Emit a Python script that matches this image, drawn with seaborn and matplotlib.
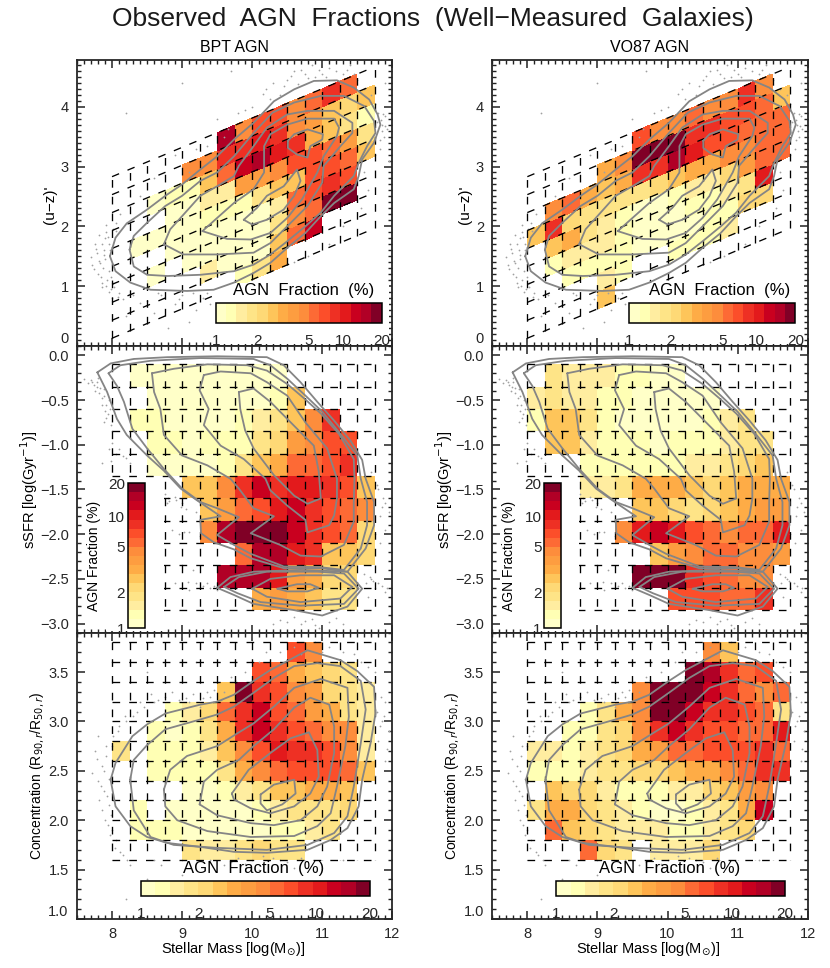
import numpy as np
import matplotlib
matplotlib.use("Agg")
import matplotlib.pyplot as plt
from matplotlib.colors import ListedColormap, BoundaryNorm
from matplotlib.patches import Rectangle
from matplotlib.ticker import MultipleLocator
import seaborn as sns

_ = -1
# ---------- colour steps of the AGN fraction scale ----------
STEP_COLORS = ['#FFFFC8', '#FFFFB4', '#FFEDA0', '#FEE487', '#FED976', '#FEC55A', '#FEAC46', '#FD9D40',
               '#FD8D3C', '#FD6A35', '#FC4E2A', '#EE3024', '#E31A1C', '#C9001F', '#B10026', '#800026']
STEP_EDGES = [1, 1.19, 1.41, 1.68, 2, 2.4, 2.88, 3.46, 4.16, 5, 6.17, 7.6, 9.37, 11.56, 13.6, 16.5, 20]
STEP_PCT = [1.09, 1.3, 1.54, 1.83, 2.2, 2.63, 3.16, 3.8, 4.56, 5.55, 6.85, 8.44, 10.4, 12.5, 15, 18.2]
CBAR_TICKS = [1, 2, 5, 10, 20]

# ---------- bins ----------
MASS_EDGES = [8, 8.25, 8.5, 8.75, 9, 9.25, 9.5, 9.75, 10, 10.25, 10.5, 10.75, 11, 11.25, 11.5, 11.75]
COLOR_OFFSETS = [0.13, 0.43, 0.73, 1.03, 1.33, 1.63, 1.93, 2.23, 2.53, 2.83]  # at mass 8
COLOR_SLOPE = 0.49
SSFR_EDGES = [-0.1, -0.35, -0.6, -0.85, -1.1, -1.35, -1.6, -1.85, -2.1, -2.35, -2.6, -2.85]
CONC_EDGES = [3.8, 3.6, 3.4, 3.2, 3.0, 2.8, 2.6, 2.4, 2.2, 2.0, 1.8, 1.6]

# ---------- fraction step read from each cell (rows bottom to top for u-z, top to bottom for others) ----------
UZ_BPT = [
    [_, _, _, _, _, _, _, 1, 3, 6, _, _, _, _, _],
    [_, _, _, _, _, 2, 0, 0, 0, 5, 9, 13, _, _, _],
    [_, _, 0, _, 0, 0, 0, 0, 0, 3, 8, 9, 15, 15, _],
    [_, _, _, 0, 0, 0, 0, 0, 0, 2, 9, 10, 11, 10, _],
    [_, 0, 0, 0, 0, 1, 1, 1, 3, 5, 5, 10, 10, 9, 5],
    [_, _, _, 0, 0, 2, 2, 7, 7, 8, 10, 10, 9, 7, 3],
    [_, _, 0, 1, 1, 5, 9, 13, 14, 12, 11, 6, 5, 3, 1],
    [_, _, _, _, 8, 8, 11, 11, 12, 11, 8, 7, 5, 4, 5],
    [_, _, _, _, _, _, 14, 8, 10, 10, 8, 9, 11, 9, _],
]
UZ_VO87 = [
    [_, _, _, _, 5, _, _, _, _, _, _, _, _, _, _],
    [_, _, _, _, 2, 1, _, _, 1, 1, 1, 2, _, _, _],
    [_, _, 1, 1, 1, 1, 0, 0, 0, 0, 1, 1, 4, 4, _],
    [_, 1, 2, 2, 2, 1, 0, 0, 0, 1, 1, 2, 3, 12, _],
    [_, 5, 6, 3, 2, 1, 0, 0, 1, 2, 2, 4, 7, 9, 9],
    [5, 11, 4, 3, 3, 3, 3, 4, 5, 6, 6, 8, 8, 9, 9],
    [_, 8, 9, 6, 5, 6, 11, 11, 14, 12, 10, 10, 9, 9, 9],
    [_, _, _, _, 6, 8, 15, 15, 15, 11, 11, 10, 10, 9, 5],
    [_, _, _, _, _, _, 10, 8, 8, 9, 8, 8, 11, 8, _],
]
SSFR_BPT = [
    [_, 0, 0, 0, 0, 0, 0, 0, 0, 0, _, _, _, _, _],
    [_, _, 0, 0, 0, 0, 0, 0, 0, 1, 5, _, _, _, _],
    [_, 1, 1, 0, 0, 0, 0, 1, 2, 3, 5, 8, 11, _, _],
    [_, _, 1, 1, 0, 1, 1, 1, 3, 4, 7, 8, 10, 10, _],
    [_, _, 0, 0, 0, 0, 1, 3, 5, 6, 9, 9, 10, 11, _],
    [_, _, _, _, 5, 5, 8, 11, 13, 11, 12, 12, 11, 10, 5],
    [_, _, _, _, _, 5, 7, 9, 10, 12, 13, 11, 10, 9, 8],
    [_, _, _, _, _, 8, 14, 15, 15, 15, 13, 11, 10, 9, 4],
    [_, _, _, _, _, _, _, 9, 14, 14, 12, 11, 5, 5, 4],
    [_, _, _, _, _, _, 14, 14, 14, 12, 7, 6, 4, 4, _],
    [_, _, _, _, _, _, _, _, 6, 7, 6, 5, 3, 3, _],
]
SSFR_VO87 = [
    [_, 3, 2, 2, 2, 1, 1, 0, 0, _, _, _, _, _, _],
    [2, 3, 2, 2, 1, 1, 0, 0, 0, 0, 0, _, _, _, _],
    [1, 5, 5, 3, 1, 0, 0, 0, 0, 0, 1, 2, 3, _, _],
    [_, 5, 5, 2, 1, 1, 1, 0, 1, 1, 1, 2, 3, 3, _],
    [_, _, _, 1, 1, 1, 1, 1, 1, 2, 2, 3, 4, 5, _],
    [_, _, _, 2, 2, 3, 6, 6, 6, 5, 4, 5, 6, 6, 6],
    [_, _, _, _, _, _, 5, 5, 4, 3, 4, 5, 6, 7, 7],
    [_, _, _, _, _, 8, 12, 13, 12, 10, 9, 8, 9, 9, 12],
    [_, _, _, _, _, _, _, 5, 7, 8, 9, 9, 8, 8, 7],
    [_, _, _, _, _, _, 15, 15, 15, 11, 10, 9, 8, 8, _],
    [_, _, _, _, _, _, _, _, 10, 10, 10, 9, 9, 11, _],
]
CONC_BPT = [
    [_, _, _, _, _, _, _, _, _, _, 10, 8, _, _, _],
    [_, _, _, _, _, _, _, _, 10, 9, 6, 5, 4, 3, _],
    [_, _, _, _, _, _, 5, 15, 11, 10, 8, 7, 4, 3, 2],
    [_, _, _, 1, 2, 4, 9, 11, 13, 10, 9, 7, 6, 3, 2],
    [_, _, 1, 0, 1, 3, 6, 11, 13, 11, 10, 9, 8, 8, 2],
    [3, _, 1, 1, 1, 2, 5, 8, 10, 12, 11, 11, 10, 8, 2],
    [_, _, 1, 1, 1, 1, 3, 6, 8, 9, 10, 10, 10, 9, 5],
    [_, _, _, _, 0, 0, 1, 2, 3, 5, 5, 6, 6, 5, _],
    [_, 1, _, 0, 0, 0, 0, 0, 1, 2, 3, 3, 3, 4, _],
    [_, 1, 1, 1, 0, 0, 0, 0, 0, 1, 1, 2, 3, _, _],
    [_, _, _, _, 3, 2, 2, 3, 4, 3, 3, _, _, _, _],
]
CONC_VO87 = [
    [_, _, _, _, _, _, _, _, _, _, 8, 5, _, _, _],
    [_, _, _, _, _, _, _, _, _, 15, 14, 11, 9, 10, _],
    [_, _, _, _, _, _, 8, 15, 15, 15, 13, 11, 9, 8, 9],
    [_, _, _, 1, 3, 6, 8, 15, 15, 13, 11, 11, 10, 9, 3],
    [_, _, 1, 1, 3, 4, 8, 11, 13, 11, 10, 10, 9, 9, 12],
    [2, 2, 1, 2, 3, 4, 6, 7, 9, 9, 10, 10, 10, 11, 9],
    [1, 1, 1, 2, 3, 3, 4, 4, 5, 6, 6, 8, 9, 11, 11],
    [_, 5, 4, 4, 2, 1, 1, 1, 2, 2, 4, 5, 7, 8, _],
    [3, 6, 6, 4, 3, 2, 1, 0, 0, 1, 2, 3, 6, 13, _],
    [_, 9, 5, 4, 3, 2, 2, 2, 1, 1, 2, 3, 4, _, _],
    [_, _, _, 9, 4, 3, _, 2, 2, 2, 4, _, _, _, _],
]

# ---------- number-density contours (mass, y) ----------
UZ_CONTOURS = [
    ([7.97, 8.05, 8.21, 8.5, 8.76, 9.0, 9.26, 9.5, 9.74, 10.02, 10.31, 10.6, 10.88, 11.21, 11.45, 11.67, 11.79, 11.83, 11.74, 11.57, 11.52, 11.45, 11.17, 10.98, 10.76, 10.5, 10.26, 10.02, 9.74, 9.45, 9.07, 8.55, 8.26, 8.05, 7.97],
     [1.50, 1.81, 2.05, 2.28, 2.51, 2.70, 2.95, 3.17, 3.45, 3.73, 4.09, 4.29, 4.43, 4.44, 4.32, 4.12, 3.87, 3.70, 3.40, 3.12, 2.84, 2.62, 2.39, 2.17, 1.89, 1.64, 1.39, 1.22, 1.06, 0.94, 0.92, 0.94, 1.06, 1.25, 1.50]),
    ([8.25, 8.31, 8.5, 8.76, 9.0, 9.26, 9.5, 9.74, 10.02, 10.29, 10.6, 10.98, 11.31, 11.6, 11.74, 11.76, 11.64, 11.52, 11.45, 11.17, 10.98, 10.76, 10.5, 10.26, 10.02, 9.74, 9.26, 8.79, 8.5, 8.31, 8.25],
     [1.61, 1.84, 2.06, 2.34, 2.51, 2.76, 2.90, 3.17, 3.56, 3.90, 4.07, 4.18, 4.18, 4.01, 3.76, 3.56, 3.34, 3.06, 2.84, 2.51, 2.23, 2.0, 1.75, 1.53, 1.36, 1.25, 1.19, 1.17, 1.19, 1.33, 1.61]),
    ([8.74, 8.83, 9.0, 9.26, 9.5, 9.74, 9.81, 10.02, 10.21, 10.5, 10.79, 11.17, 11.43, 11.43, 11.26, 11.02, 11.0, 10.79, 10.5, 10.26, 10.02, 9.5, 9.02, 8.74],
     [1.70, 1.95, 2.17, 2.51, 2.67, 2.84, 3.01, 3.34, 3.65, 3.87, 3.93, 3.93, 3.73, 3.56, 3.34, 3.01, 2.73, 2.34, 2.0, 1.72, 1.56, 1.53, 1.53, 1.70]),
    ([9.29, 9.5, 9.74, 10.02, 10.17, 10.17, 10.26, 10.5, 10.79, 11.17, 11.24, 11.21, 11.02, 10.93, 10.71, 10.5, 10.26, 9.98, 9.64, 9.29],
     [1.92, 2.14, 2.39, 2.62, 2.90, 3.34, 3.54, 3.70, 3.80, 3.80, 3.65, 3.51, 3.17, 2.90, 2.45, 2.14, 1.89, 1.78, 1.79, 1.92]),
    ([9.88, 10.07, 10.21, 10.45, 10.64, 10.69, 10.6, 10.45, 10.21, 10.0, 9.88],
     [2.11, 2.31, 2.51, 2.67, 2.95, 2.76, 2.51, 2.28, 2.11, 2.03, 2.11]),
    ([10.51, 10.6, 10.79, 11.01, 11.0, 10.83, 10.79, 10.64, 10.51, 10.51],
     [3.43, 3.54, 3.62, 3.54, 3.45, 3.34, 3.15, 3.20, 3.31, 3.43]),
]
SSFR_CONTOURS = [
    ([7.79, 7.98, 8.31, 8.79, 9.5, 10.21, 10.45, 10.69, 10.93, 11.17, 11.4, 11.57, 11.62, 11.74, 11.74, 11.62, 11.36, 10.98, 10.45, 9.98, 9.74, 9.45, 9.27, 9.26, 9.55, 9.21, 8.98, 8.74, 8.5, 8.21, 8.07, 7.93, 7.79],
     [-0.19, -0.09, -0.04, -0.02, -0.01, -0.02, -0.11, -0.30, -0.52, -0.73, -0.95, -1.17, -1.38, -1.64, -1.90, -2.16, -2.42, -2.38, -2.38, -2.27, -2.17, -2.09, -1.99, -1.84, -1.80, -1.62, -1.49, -1.29, -1.12, -0.89, -0.71, -0.41, -0.19]),
    ([7.95, 8.12, 8.55, 9.26, 10.02, 10.26, 10.5, 10.76, 11.0, 11.24, 11.5, 11.55, 11.64, 11.64, 11.55, 11.31, 10.98, 10.45, 9.98, 9.74, 9.5, 9.81, 9.5, 9.26, 9.0, 8.74, 8.5, 8.29, 8.17, 8.07, 7.95],
     [-0.20, -0.11, -0.06, -0.03, -0.04, -0.11, -0.26, -0.45, -0.63, -0.86, -1.12, -1.38, -1.64, -1.90, -2.16, -2.40, -2.37, -2.36, -2.22, -2.12, -2.01, -1.81, -1.71, -1.64, -1.49, -1.27, -1.04, -0.82, -0.52, -0.34, -0.20]),
    ([8.57, 8.88, 9.36, 9.93, 10.21, 10.5, 10.74, 10.98, 11.24, 11.45, 11.46, 11.45, 11.45, 11.31, 10.98, 10.69, 10.4, 9.98, 10.31, 10.02, 9.81, 9.69, 9.36, 9.0, 8.74, 8.69, 8.6, 8.57],
     [-0.20, -0.15, -0.10, -0.11, -0.17, -0.32, -0.48, -0.65, -0.88, -1.16, -1.38, -1.64, -1.86, -2.12, -2.25, -2.24, -2.12, -1.99, -1.80, -1.71, -1.49, -1.38, -1.23, -1.12, -0.89, -0.60, -0.41, -0.20]),
    ([9.31, 9.55, 9.98, 10.21, 10.5, 10.76, 11.07, 11.21, 11.21, 11.17, 11.1, 10.79, 10.76, 10.5, 10.26, 10.19, 9.88, 9.55, 9.31, 9.38, 9.25, 9.31],
     [-0.22, -0.18, -0.20, -0.30, -0.45, -0.75, -1.04, -1.38, -1.60, -1.79, -1.90, -1.98, -1.84, -1.68, -1.51, -1.38, -1.16, -1.01, -0.78, -0.60, -0.39, -0.22]),
    ([9.81, 10.02, 10.26, 10.5, 10.88, 10.95, 10.98, 10.79, 10.6, 10.31, 10.02, 9.9, 9.83, 9.81],
     [-0.41, -0.37, -0.52, -0.71, -1.01, -1.30, -1.60, -1.66, -1.57, -1.34, -1.04, -0.84, -0.60, -0.41]),
    ([9.5, 9.69, 10.02, 10.69, 11.36, 11.57, 11.36, 11.0, 10.6, 10.02, 9.74, 9.5],
     [-2.60, -2.48, -2.42, -2.40, -2.42, -2.61, -2.81, -2.91, -2.85, -2.78, -2.68, -2.60]),
    ([9.6, 9.81, 10.21, 10.93, 11.31, 11.52, 11.31, 10.69, 10.12, 9.79, 9.6],
     [-2.59, -2.48, -2.42, -2.42, -2.44, -2.61, -2.78, -2.80, -2.76, -2.66, -2.59]),
    ([10.0, 10.26, 10.69, 11.17, 11.43, 11.26, 10.69, 10.21, 10.0],
     [-2.61, -2.50, -2.46, -2.46, -2.59, -2.72, -2.76, -2.70, -2.61]),
    ([10.36, 10.64, 10.83, 10.95, 10.79, 10.5, 10.36],
     [-2.61, -2.56, -2.56, -2.60, -2.64, -2.64, -2.61]),
]
CONC_CONTOURS = [
    ([7.98, 8.05, 8.29, 8.5, 8.76, 9.26, 9.5, 9.74, 10.02, 10.26, 10.5, 10.79, 11.26, 11.5, 11.74, 11.76, 11.69, 11.57, 11.52, 11.36, 11.12, 10.79, 10.21, 9.74, 9.26, 8.79, 8.5, 8.26, 8.05, 7.98],
     [2.41, 2.58, 2.85, 2.97, 3.08, 3.17, 3.20, 3.27, 3.41, 3.52, 3.61, 3.72, 3.62, 3.51, 3.35, 3.08, 2.78, 2.41, 2.14, 1.92, 1.80, 1.70, 1.67, 1.68, 1.73, 1.77, 1.83, 1.94, 2.14, 2.41]),
    ([8.26, 8.31, 8.5, 8.76, 9.26, 9.5, 9.74, 10.02, 10.31, 10.6, 10.93, 11.26, 11.55, 11.62, 11.55, 11.45, 11.36, 11.17, 10.79, 10.21, 9.5, 8.88, 8.55, 8.31, 8.26],
     [2.41, 2.61, 2.76, 2.92, 3.02, 3.07, 3.15, 3.29, 3.44, 3.56, 3.59, 3.56, 3.41, 3.12, 2.78, 2.34, 2.04, 1.87, 1.75, 1.70, 1.72, 1.75, 1.83, 2.10, 2.41]),
    ([8.74, 8.83, 9.07, 9.5, 9.79, 10.02, 10.31, 10.6, 10.98, 11.36, 11.38, 11.33, 11.21, 11.12, 10.93, 10.6, 9.98, 9.36, 8.93, 8.76, 8.74],
     [2.31, 2.51, 2.65, 2.75, 2.88, 2.98, 3.15, 3.34, 3.43, 3.34, 3.05, 2.75, 2.34, 2.07, 1.94, 1.84, 1.83, 1.89, 2.0, 2.14, 2.31]),
    ([9.25, 9.31, 9.5, 9.81, 10.02, 10.31, 10.6, 10.83, 11.1, 11.17, 11.17, 11.07, 10.93, 10.69, 10.31, 9.98, 9.5, 9.25],
     [2.16, 2.39, 2.51, 2.61, 2.75, 2.92, 3.14, 3.24, 3.17, 2.95, 2.68, 2.34, 2.14, 2.0, 1.95, 1.97, 2.05, 2.16]),
    ([9.71, 9.95, 10.26, 10.55, 10.81, 10.93, 10.95, 10.83, 10.6, 10.26, 9.98, 9.74, 9.71],
     [2.27, 2.51, 2.68, 2.83, 2.89, 2.71, 2.44, 2.27, 2.14, 2.07, 2.12, 2.21, 2.27]),
    ([10.12, 10.31, 10.6, 10.62, 10.43, 10.21, 10.12, 10.12],
     [2.26, 2.36, 2.41, 2.27, 2.16, 2.10, 2.17, 2.26]),
]

# ---------- individual faint galaxies ----------
UZ_DOTS_X = [7.72, 7.78, 7.80, 7.85, 7.85, 7.9, 7.92, 7.95, 7.98, 7.88, 7.93, 7.96, 8.02, 8.05, 8.1, 8.12, 8.0, 7.75, 7.83, 7.9,
             7.7, 7.74, 7.77, 7.81, 7.84, 7.87, 7.89, 7.91, 7.94, 7.97, 7.99, 8.01, 8.03, 8.06, 8.08, 7.82, 7.86, 7.92, 7.95, 8.15,
             8.3, 8.5, 8.7, 8.9, 9.0, 9.2, 9.3, 9.4, 9.6, 9.7, 8.6, 8.2, 8.8, 9.1, 8.4, 8.65, 8.95, 9.15, 9.35, 9.55,
             8.6, 8.9, 9.2, 9.6, 9.8, 10, 10.2, 10.4, 10.5, 10.6, 10.75, 10.85, 11, 11.1, 11.3, 11.4, 11.5, 10.9, 10.3, 9.5, 9.1, 8.4, 8.2, 9, 9.7,
             10.15, 10.25, 10.45, 10.55, 10.65, 10.7, 10.8, 10.95, 11.05, 11.2, 11.35, 11.45, 9.9, 9.65, 9.35,
             11.6, 11.75, 11.8, 11.85, 11.88, 11.82, 11.9, 11.75, 11.6, 11.65, 11.55, 11.3, 11.1, 10.8, 10.6, 11.9, 11.95,
             11.84, 11.86, 11.87, 11.89, 11.83, 11.78, 11.92, 11.7]
UZ_DOTS_Y = [1.35, 1.55, 1.2, 1.7, 1.05, 1.45, 1.9, 1.25, 0.95, 1.6, 1.1, 1.7, 1.05, 2.05, 0.88, 2.2, 0.8, 1.7, 1.38, 1.8,
             1.48, 1.28, 1.62, 1.42, 1.15, 1.3, 1.52, 1.0, 1.82, 1.6, 1.15, 1.95, 0.98, 1.92, 0.82, 1.85, 0.98, 2.02, 0.9, 0.78,
             0.85, 0.75, 0.85, 0.7, 0.85, 0.6, 0.8, 0.7, 0.65, 0.85, 0.55, 0.5, 0.3, 0.4, 0.72, 0.88, 0.78, 0.88, 0.88, 0.8,
             2.8, 3.2, 3.3, 3.5, 3.9, 4.0, 4.3, 4.2, 4.45, 4.6, 4.55, 4.7, 4.55, 4.65, 4.55, 4.7, 4.45, 4.5, 4.4, 3.8, 2.9, 2.5, 3.9, 4.4, 4.6,
             4.22, 4.12, 4.35, 4.52, 4.38, 4.62, 4.48, 4.62, 4.5, 4.6, 4.62, 4.55, 3.95, 3.62, 3.35,
             4.3, 4.05, 3.9, 3.7, 3.5, 3.3, 3.85, 3.2, 2.9, 2.6, 2.3, 2.0, 1.7, 1.5, 1.4, 4.4, 3.1,
             3.78, 3.6, 3.88, 3.68, 3.45, 3.75, 3.62, 4.2]
SSFR_DOTS_X = [7.72, 7.78, 7.8, 7.82, 7.85, 7.88, 7.9, 7.92, 7.95, 7.98, 8.0, 7.7, 7.95, 8.05, 8.1, 8.2, 7.85,
               7.74, 7.76, 7.79, 7.83, 7.86, 7.89, 7.91, 7.94, 7.97, 7.6, 7.65, 7.88, 8.0, 8.15, 8.25, 7.98,
               8.75, 8.8, 8.9, 8.78, 9.0, 8.85, 8.95, 9.1, 9.0, 9.15, 8.9, 9.2, 9.3, 9.1, 9.4,
               8.82, 8.92, 8.98, 9.05, 9.2, 9.02, 9.25, 9.35, 9.45, 9.5, 9.08,
               11.7, 11.8, 11.85, 11.9, 11.75, 11.82, 11.9, 11.6, 11.7, 11.75, 11.8, 11.9, 11.65,
               11.78, 11.83, 11.87, 11.72, 11.62, 11.68, 11.73, 11.85, 11.92, 11.95,
               10.3, 10.5, 10.7, 10.9, 11.1, 11.3, 10.85, 10.6, 10.4, 10.75, 10.95, 11.2]
SSFR_DOTS_Y = [-0.3, -0.35, -0.25, -0.42, -0.55, -0.38, -0.62, -0.7, -0.5, -0.78, -0.85, -0.28, -1.05, -1.1, -1.05, -1.15, -1.2,
               -0.33, -0.4, -0.3, -0.36, -0.48, -0.45, -0.55, -0.66, -0.6, -0.26, -0.31, -0.75, -0.98, -1.12, -1.2, -1.18,
               -1.55, -1.6, -1.58, -1.65, -1.65, -1.95, -2.0, -1.98, -2.35, -2.4, -2.55, -2.55, -2.58, -2.62, -2.6,
               -1.63, -1.62, -1.7, -1.72, -1.75, -1.98, -2.02, -2.55, -2.58, -2.62, -2.53,
               -1.3, -1.5, -1.7, -1.65, -2.0, -2.1, -1.95, -2.45, -2.5, -2.6, -2.55, -2.65, -2.7,
               -1.45, -1.8, -1.6, -1.85, -2.55, -2.48, -2.52, -2.58, -2.6, -1.75,
               -3.0, -2.98, -3.0, -3.02, -2.98, -3.0, -2.95, -2.93, -2.96, -2.97, -3.05, -2.94]
CONC_DOTS_X = [7.75, 7.8, 7.82, 7.85, 7.88, 7.9, 7.92, 7.95, 7.97, 7.8, 8.0, 8.0, 8.05, 8.1, 8.15, 8.2, 8.25, 8.3, 8.45, 8.6, 8.75,
               7.72, 7.78, 7.84, 7.86, 7.89, 7.91, 7.93, 7.94, 7.96, 7.98, 8.02, 8.04, 8.08, 8.12, 8.18, 8.22, 8.35, 8.4, 8.55, 8.65, 8.85,
               8.95, 9.1, 9.25, 9.4, 9.6, 9.7, 9.9, 8.5, 8.0, 9.2, 9.05, 9.15, 9.3, 9.35, 9.45, 9.55, 9.75,
               10.2, 10.4, 10.6, 10.9, 11.1, 11.3, 11.55, 11.75, 11.9, 11.85, 11.8, 11.9, 11.95, 11.75,
               11.78, 11.82, 11.84, 11.88, 11.92, 11.65, 11.45, 11.0, 10.7, 10.1,
               9, 9.4, 9.6, 9.8, 10.0, 10.1, 10.3, 10.5, 10.7, 9.2, 8.5, 8.2, 9.0, 8.6, 8.7, 11.3, 9.7, 9.9, 10.15, 10.4, 10.6]
CONC_DOTS_Y = [2.7, 2.4, 2.2, 2.55, 2.3, 2.0, 2.75, 2.15, 1.85, 2.85, 2.75, 1.9, 1.8, 2.95, 1.65, 3.0, 1.55, 3.05, 3.15, 3.2, 3.25,
               2.48, 2.62, 2.35, 2.1, 2.5, 2.65, 2.25, 1.95, 2.42, 2.05, 2.85, 1.72, 2.9, 1.68, 3.05, 1.6, 3.1, 3.2, 3.28, 3.22, 3.3,
               3.22, 3.2, 3.15, 3.25, 3.3, 3.45, 3.5, 3.5, 3.6, 3.6, 3.24, 3.28, 3.24, 3.3, 3.32, 3.22, 3.42,
               3.7, 3.7, 3.75, 3.8, 3.75, 3.7, 3.6, 3.5, 3.2, 3.0, 2.8, 2.6, 2.9, 2.45,
               3.1, 2.95, 3.25, 3.05, 2.72, 3.55, 3.68, 3.7, 3.68, 3.6,
               1.45, 1.6, 1.55, 1.62, 1.6, 1.5, 1.62, 1.58, 1.62, 1.35, 1.4, 1.2, 1.6, 1.6, 1.55, 1.6, 1.58, 1.56, 1.64, 1.6, 1.52]

COLUMN_TITLES = ['BPT AGN', 'VO87 AGN']
TITLE = 'Observed  AGN  Fractions  (Well\u2212Measured  Galaxies)'

# ---------- style ----------
sns.set_theme(style='ticks')
plt.rcParams['font.family'] = ['Liberation Sans', 'DejaVu Sans']
plt.rcParams['axes.linewidth'] = 1.3
W, H = 830, 968
fig = plt.figure(figsize=(W / 100, H / 100), dpi=100, facecolor='white')
cmap = ListedColormap(STEP_COLORS)
norm = BoundaryNorm(STEP_EDGES, cmap.N)
TICK_FS = 10.5
GRAY = '#858585'


def px_axes(x0, y0, x1, y1, **kw):
    return fig.add_axes([x0 / W, 1 - y1 / H, (x1 - x0) / W, (y1 - y0) / H], **kw)


def px_text(x, y, s, **kw):
    kw.setdefault('ha', 'center')
    kw.setdefault('va', 'center')
    kw.setdefault('color', 'black')
    fig.text(x / W, 1 - y / H, s, **kw)


def fractions(bins):
    b = np.array(bins)
    vals = np.array(STEP_PCT)[np.clip(b, 0, None)].astype(float)
    return np.ma.masked_where(b < 0, vals)


def draw_panel(ax, X, Y, bins, contours, dots, ylim, major_y):
    ax.pcolormesh(X, Y, fractions(bins), cmap=cmap, norm=norm, shading='flat', zorder=1, linewidth=0)
    sns.scatterplot(x=dots[0], y=dots[1], ax=ax, s=1.6, color='#a0a0a0', linewidth=0, zorder=1.5, legend=False)
    dash = dict(color='black', lw=0.95, linestyle=(0, (5.8, 6.9)), dash_capstyle='butt', zorder=2)
    for j in range(X.shape[1]):
        ax.plot(X[:, j], Y[:, j], **dash)
    for i in range(X.shape[0]):
        ax.plot(X[i, :], Y[i, :], **dash)
    for cx, cy in contours:
        sns.lineplot(x=cx, y=cy, ax=ax, sort=False, estimator=None, color=GRAY, lw=1.3, zorder=4, legend=False)
    ax.set_xlim(7.5, 12)
    ax.set_ylim(*ylim)
    ax.set_xlabel('')
    ax.set_ylabel('')
    ax.xaxis.set_major_locator(MultipleLocator(1))
    ax.xaxis.set_minor_locator(MultipleLocator(0.1))
    ax.yaxis.set_major_locator(MultipleLocator(major_y))
    ax.yaxis.set_minor_locator(MultipleLocator(0.1))
    ax.tick_params(which='major', direction='in', top=True, right=True, length=6, width=1.1,
                   labelsize=TICK_FS, pad=6, color='#222222')
    ax.tick_params(which='minor', direction='in', top=True, right=True, length=3, width=1.0, color='#222222')
    ax.grid(False)


def colorbar(cx0, cy0, cx1, cy1, orientation):
    cax = px_axes(cx0, cy0, cx1, cy1)
    sm = plt.cm.ScalarMappable(norm=norm, cmap=cmap)
    cb = fig.colorbar(sm, cax=cax, orientation=orientation, spacing='uniform', ticks=CBAR_TICKS)
    cb.outline.set_linewidth(1.1)
    cb.outline.set_edgecolor('black')
    axis = cax.xaxis if orientation == 'horizontal' else cax.yaxis
    axis.set_ticks(CBAR_TICKS)
    axis.set_ticklabels([str(t) for t in CBAR_TICKS])
    axis.set_ticks([5, 10], minor=True)
    cax.tick_params(which='major', length=0, labelsize=TICK_FS + 0.5, pad=8)
    if orientation == 'horizontal':
        cax.tick_params(which='minor', direction='in', length=3, width=1, top=True, bottom=True, color='black')
    else:
        cax.yaxis.set_ticks_position('left')
        cax.tick_params(which='minor', direction='in', length=3, width=1, left=True, right=True, color='black')
        cax.tick_params(which='major', pad=2)
    return cax


X_UZ, OFFS = np.meshgrid(MASS_EDGES, COLOR_OFFSETS)
Y_UZ = OFFS + COLOR_SLOPE * (X_UZ - 8)
X_SS, Y_SS = np.meshgrid(MASS_EDGES, SSFR_EDGES)
X_CO, Y_CO = np.meshgrid(MASS_EDGES, CONC_EDGES)

COLS = [(77, 392.3), (492.3, 807.7)]
ROWS = [(60, 346), (346, 632.5), (632.5, 919)]
CBAR_TOP_X = [(215.7, 381.7), (629.3, 795.3)]
CBAR_MID_X = [(128, 144.7), (544.3, 560.7)]
CBAR_BOT_X = [(141, 370), (556.3, 785)]

for k, (x0, x1) in enumerate(COLS):
    off = x0 - COLS[0][0]
    # u-z panel
    ax = px_axes(x0, ROWS[0][0], x1, ROWS[0][1])
    draw_panel(ax, X_UZ, Y_UZ, [UZ_BPT, UZ_VO87][k], UZ_CONTOURS, (UZ_DOTS_X, UZ_DOTS_Y), (0, 4.78), 1)
    ax.add_patch(Rectangle((9.47, 0.03), 2.48, 1.03, facecolor='white', edgecolor='none', zorder=3))
    ax.tick_params(labelbottom=False)
    ax.set_yticks([0, 1, 2, 3, 4])
    ax.get_yticklabels()[0].set_verticalalignment('bottom')
    # sSFR panel
    ax = px_axes(x0, ROWS[1][0], x1, ROWS[1][1])
    draw_panel(ax, X_SS, Y_SS, [SSFR_BPT, SSFR_VO87][k], SSFR_CONTOURS, (SSFR_DOTS_X, SSFR_DOTS_Y), (-3.1, 0.105), 0.5)
    ax.add_patch(Rectangle((7.92, -3.08), 0.82, 1.71, facecolor='white', edgecolor='none', zorder=3))
    ax.tick_params(labelbottom=False)
    ax.set_yticks([-3, -2.5, -2, -1.5, -1, -0.5, 0])
    ax.set_yticklabels(['\u22123.0', '\u22122.5', '\u22122.0', '\u22121.5', '\u22121.0', '\u22120.5', '0.0'])
    # concentration panel
    ax = px_axes(x0, ROWS[2][0], x1, ROWS[2][1])
    draw_panel(ax, X_CO, Y_CO, [CONC_BPT, CONC_VO87][k], CONC_CONTOURS, (CONC_DOTS_X, CONC_DOTS_Y), (1.0, 3.9), 0.5)
    ax.set_xticks([8, 9, 10, 11, 12])
    ax.set_yticks([1, 1.5, 2, 2.5, 3, 3.5])
    ax.set_yticklabels(['1.0', '1.5', '2.0', '2.5', '3.0', '3.5'])
    ax.get_yticklabels()[0].set_verticalalignment('bottom')

    # colour bars
    colorbar(CBAR_TOP_X[k][0], 303.3, CBAR_TOP_X[k][1], 322.7, 'horizontal')
    colorbar(CBAR_MID_X[k][0], 483.3, CBAR_MID_X[k][1], 628.3, 'vertical')
    colorbar(CBAR_BOT_X[k][0], 880.7, CBAR_BOT_X[k][1], 896, 'horizontal')
    px_text(305 + off - 1, 291, 'AGN  Fraction  (%)', fontsize=12)
    px_text(254 + off, 868, 'AGN  Fraction  (%)', fontsize=12)
    px_text(94 + off, 556, 'AGN Fraction (%)', fontsize=10, rotation=90)

    # column titles and axis labels
    px_text(234 + off, 47, COLUMN_TITLES[k], fontsize=11.5)
    px_text(50 + off, 205, "(u\u2212z)'", fontsize=11, rotation=90)
    px_text(29 + off, 490, 'sSFR [log(Gyr$^{-1}$)]', fontsize=10.5, rotation=90)
    px_text(37 + off, 776, 'Concentration (R$_{90,r}$/R$_{50,r}$)', fontsize=10, rotation=90)
    px_text(233 + off, 949, 'Stellar Mass [log(M$_{\\odot}$)]', fontsize=10.5)

px_text(433, 19, TITLE, fontsize=19, color='#1a1a1a')

fig.savefig('out.png', dpi=100, facecolor='white')
